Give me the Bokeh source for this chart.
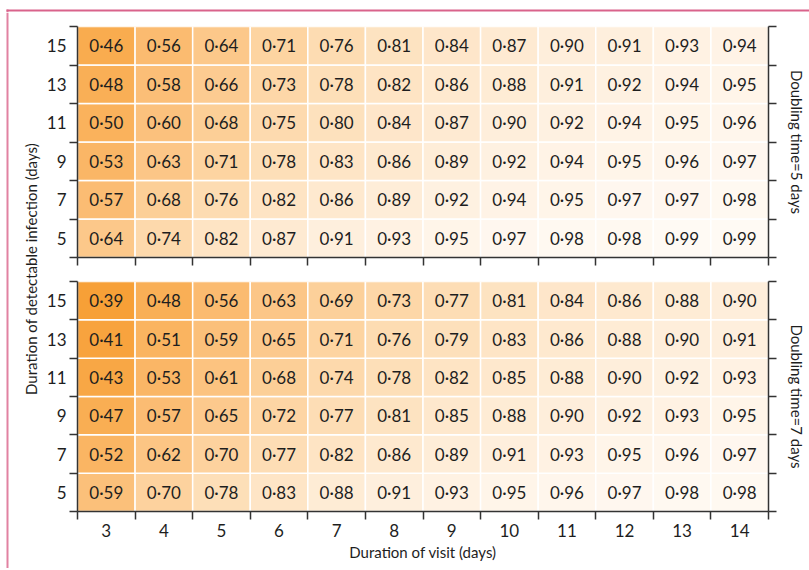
import numpy as np
from bokeh.plotting import figure
from bokeh.models import (ColumnDataSource, FixedTicker, LinearAxis, Range1d, Label,
                          BoxAnnotation, LinearColorMapper)
from bokeh.layouts import column, row
from bokeh.embed import file_html
from bokeh.resources import INLINE

# ---------------- data ----------------
visit_days = [3, 4, 5, 6, 7, 8, 9, 10, 11, 12, 13, 14]
infection_days = [5, 7, 9, 11, 13, 15]

# doubling time = 5 days, rows ordered as infection_days (5 -> 15)
dt5_rows = [
    [0.64, 0.74, 0.82, 0.87, 0.91, 0.93, 0.95, 0.97, 0.98, 0.98, 0.99, 0.99],
    [0.57, 0.68, 0.76, 0.82, 0.86, 0.89, 0.92, 0.94, 0.95, 0.97, 0.97, 0.98],
    [0.53, 0.63, 0.71, 0.78, 0.83, 0.86, 0.89, 0.92, 0.94, 0.95, 0.96, 0.97],
    [0.50, 0.60, 0.68, 0.75, 0.80, 0.84, 0.87, 0.90, 0.92, 0.94, 0.95, 0.96],
    [0.48, 0.58, 0.66, 0.73, 0.78, 0.82, 0.86, 0.88, 0.91, 0.92, 0.94, 0.95],
    [0.46, 0.56, 0.64, 0.71, 0.76, 0.81, 0.84, 0.87, 0.90, 0.91, 0.93, 0.94],
]
# doubling time = 7 days
dt7_rows = [
    [0.59, 0.70, 0.78, 0.83, 0.88, 0.91, 0.93, 0.95, 0.96, 0.97, 0.98, 0.98],
    [0.52, 0.62, 0.70, 0.77, 0.82, 0.86, 0.89, 0.91, 0.93, 0.95, 0.96, 0.97],
    [0.47, 0.57, 0.65, 0.72, 0.77, 0.81, 0.85, 0.88, 0.90, 0.92, 0.93, 0.95],
    [0.43, 0.53, 0.61, 0.68, 0.74, 0.78, 0.82, 0.85, 0.88, 0.90, 0.92, 0.93],
    [0.41, 0.51, 0.59, 0.65, 0.71, 0.76, 0.79, 0.83, 0.86, 0.88, 0.90, 0.91],
    [0.39, 0.48, 0.56, 0.63, 0.69, 0.73, 0.77, 0.81, 0.84, 0.86, 0.88, 0.90],
]

x_title = "Duration of visit (days)"
y_title = "Duration of detectable infection (days)"
panel_titles = ["Doubling time=5 days", "Doubling time=7 days"]

# ---------------- styling ----------------
FONT = "Lato"
TXT = "#1e1e1e"
AX = "#333333"
FRAME = "#d9638b"

stop_v = [0.39, 0.46, 0.56, 0.64, 0.76, 0.87, 0.99]
stop_c = [(247, 160, 55), (249, 172, 80), (251, 187, 112), (252, 200, 138),
          (253, 220, 178), (254, 234, 210), (255, 250, 244)]
vv = np.linspace(0.39, 0.99, 256)
palette = []
for v in vv:
    r = np.interp(v, stop_v, [c[0] for c in stop_c])
    g = np.interp(v, stop_v, [c[1] for c in stop_c])
    b = np.interp(v, stop_v, [c[2] for c in stop_c])
    palette.append("#%02x%02x%02x" % (int(round(r)), int(round(g)), int(round(b))))
mapper = LinearColorMapper(palette=palette, low=0.39, high=0.99)

nx, ny = len(visit_days), len(infection_days)
x_centers = [i + 0.5 for i in range(nx)]
y_centers = [j + 0.5 for j in range(ny)]
x_bounds = list(range(nx + 1))
y_bounds = list(range(ny + 1))

LW = 42          # left strip (y title + frame line)
PW = 767         # panel figure width
STRIP_H = 12
HA, HB = 257, 299


def style_axis(ax):
    ax.axis_line_color = AX
    ax.axis_line_width = 1.5
    ax.major_tick_line_color = None
    ax.major_tick_out = 8
    ax.major_tick_in = 0
    ax.minor_tick_line_color = AX
    ax.minor_tick_line_width = 1.5
    ax.minor_tick_out = 8
    ax.minor_tick_in = 0
    ax.major_label_text_font = FONT
    ax.major_label_text_font_size = "17px"
    ax.major_label_text_color = TXT
    ax.axis_label_text_font = FONT
    ax.axis_label_text_font_size = "15px"
    ax.axis_label_text_font_style = "normal"
    ax.axis_label_text_color = TXT


def make_panel(rows, title, bottom_labels, height, btop, bbottom):
    p = figure(width=PW, height=height, x_range=Range1d(0, nx), y_range=Range1d(0, ny),
               output_backend="svg", toolbar_location=None,
               min_border_left=35, min_border_right=41,
               min_border_top=btop, min_border_bottom=bbottom)
    p.grid.visible = False
    p.outline_line_color = None
    p.background_fill_color = "white"

    xs, ys, vals, labels = [], [], [], []
    for j, r in enumerate(rows):
        for i, v in enumerate(r):
            xs.append(x_centers[i])
            ys.append(y_centers[j])
            vals.append(v)
            labels.append(("%.2f" % v).replace(".", "\u00b7"))
    src = ColumnDataSource(dict(x=xs, y=ys, v=vals, t=labels))
    p.rect(x="x", y="y", width=1, height=1, source=src,
           fill_color={"field": "v", "transform": mapper},
           line_color="white", line_width=1.5)
    p.text(x="x", y="y", text="t", source=src, text_align="center",
           text_baseline="middle", text_font_size="17px",
           text_font={"value": FONT}, text_color=TXT)

    xt = FixedTicker(ticks=x_centers, minor_ticks=x_bounds)
    yt = FixedTicker(ticks=y_centers, minor_ticks=y_bounds)

    xa = p.xaxis[0]
    xa.ticker = xt
    style_axis(xa)
    if bottom_labels:
        xa.major_label_overrides = {c: str(d) for c, d in zip(x_centers, visit_days)}
        xa.major_label_standoff = 4
        xa.axis_label = x_title
        xa.axis_label_standoff = 3
    else:
        xa.major_label_overrides = {c: "" for c in x_centers}
        xa.major_label_text_font_size = "0px"
        xa.major_label_standoff = 0

    ya = p.yaxis[0]
    ya.ticker = yt
    style_axis(ya)
    ya.major_label_overrides = {c: str(d) for c, d in zip(y_centers, infection_days)}
    ya.major_label_standoff = 3

    ra = LinearAxis(ticker=FixedTicker(ticks=y_centers, minor_ticks=y_bounds))
    style_axis(ra)
    ra.major_label_overrides = {c: "" for c in y_centers}
    ra.major_label_text_font_size = "0px"
    ra.major_label_standoff = 0
    ra.axis_label = title
    ra.axis_label_standoff = 11
    p.add_layout(ra, "right")
    return p


pA = make_panel(dt5_rows, panel_titles[0], False, HA, 14, 12)
pB = make_panel(dt7_rows, panel_titles[1], True, HB, 12, 57)

TOTAL_H = HA + HB
left = figure(width=LW, height=TOTAL_H, x_range=Range1d(0, LW), y_range=Range1d(0, TOTAL_H),
              output_backend="svg", toolbar_location=None, min_border=0)
left.axis.visible = False
left.grid.visible = False
left.outline_line_color = None
left.add_layout(BoxAnnotation(left=6, right=8, fill_color=FRAME, fill_alpha=0.8,
                              line_color=None))
left.add_layout(Label(x=30, y=TOTAL_H - 256.5, text=y_title, angle=np.pi / 2,
                      text_align="center", text_baseline="middle",
                      text_font=FONT, text_font_size="15px", text_color=TXT))

strip = figure(width=LW + PW, height=STRIP_H, x_range=Range1d(0, LW + PW),
               y_range=Range1d(0, STRIP_H), output_backend="svg",
               toolbar_location=None, min_border=0)
strip.axis.visible = False
strip.grid.visible = False
strip.outline_line_color = None
strip.add_layout(BoxAnnotation(left=6, bottom=1, top=3, fill_color=FRAME, fill_alpha=1.0,
                               line_color=None))
strip.add_layout(BoxAnnotation(left=6, right=8, top=3, fill_color=FRAME, fill_alpha=0.8,
                               line_color=None))

layout = column(strip, row(left, column(pA, pB)))
open("out.html", "w").write(file_html(layout, INLINE))
